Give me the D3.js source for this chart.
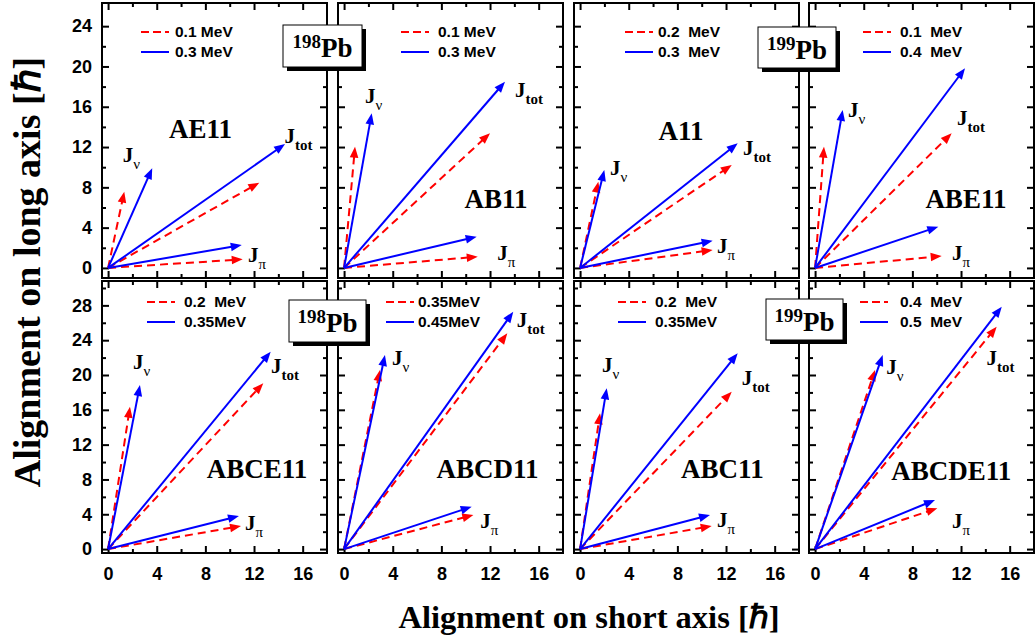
<!DOCTYPE html>
<html>
<head>
<meta charset="utf-8">
<script src="https://cdn.jsdelivr.net/npm/d3@7"></script>
<style>
  body { margin: 0; background: #fff; }
</style>
</head>
<body>
<svg id="chart" width="1035" height="638"></svg>
<script>
// ---- data ----
const panelNames = ["AE11", "AB11", "A11", "ABE11", "ABCE11", "ABCD11", "ABC11", "ABCDE11"];
const redLegend  = ["0.1 MeV", "0.1 MeV", "0.2  MeV", "0.1  MeV", "0.2  MeV", "0.35MeV", "0.2  MeV", "0.4  MeV"];
const blueLegend = ["0.3 MeV", "0.3 MeV", "0.3  MeV", "0.4  MeV", "0.35MeV", "0.45MeV", "0.35MeV", "0.5  MeV"];

// arrow tips [short axis, long axis], one per panel
const redNu   = [[1.33, 7.57], [0.90, 12.04], [1.50, 8.56], [0.73, 12.04], [1.80, 16.36], [2.95, 20.58], [1.64, 15.60], [4.93, 20.58]];
const redPi   = [[11.07, 0.85], [10.99, 1.11], [10.90, 1.78], [10.41, 1.18], [10.93, 2.65], [10.63, 3.92], [10.82, 2.65], [10.05, 4.69]];
const redTot  = [[12.43, 8.46], [12.00, 13.37], [12.47, 10.22], [11.23, 13.37], [12.76, 19.05], [13.42, 24.79], [12.47, 18.08], [14.93, 25.55]];
const blueNu  = [[3.63, 9.89], [2.27, 15.35], [1.99, 9.72], [2.27, 15.68], [2.62, 18.85], [3.36, 22.30], [2.19, 18.47], [5.56, 22.30]];
const bluePi  = [[10.99, 2.27], [10.90, 3.10], [10.90, 2.70], [10.13, 4.09], [10.76, 3.80], [10.49, 4.87], [10.68, 3.92], [9.86, 5.64]];
const blueTot = [[14.55, 12.30], [13.23, 18.49], [12.96, 12.37], [12.33, 19.82], [13.37, 22.68], [13.91, 27.27], [12.96, 22.50], [15.35, 27.85]];

const xTicks = [0, 4, 8, 12, 16];
const xMinor = [2, 6, 10, 14];
const yTicksTop = [0, 4, 8, 12, 16, 20, 24];
const yMinorTop = [2, 6, 10, 14, 18, 22];
const yTicksBottom = [0, 4, 8, 12, 16, 20, 24, 28];
const yMinorBottom = [2, 6, 10, 14, 18, 22, 26, 30];

const massNumbers = ["198", "199", "198", "199"];

// ---- layout ----
const panelLeft = [102, 338, 574, 809];
const panelW = 225;
const rowTop = [3, 281];
const rowBottom = [278, 553];
const xDomain = [-0.5, 18];
const yDomains = [[-1, 26.3], [-0.45, 30.8]];

// annotation positions in data units: [J_tot, J_nu, J_pi, name]
const labelPos = [
  [[14.5, 12.4], [1.2, 10.5], [11.5, 0.6], [7.6, 12.9]],
  [[14.05, 17.0], [1.72, 16.4], [12.6, 0.8], [12.5, 5.95]],
  [[13.4, 11.2], [2.45, 9.2], [11.25, 1.5], [8.3, 12.7]],
  [[11.66, 14.2], [2.7, 15.0], [11.26, 0.8], [12.4, 5.95]],
  [[13.4, 20.2], [2.05, 20.7], [11.26, 2.2], [12.25, 8.2]],
  [[14.2, 25.5], [3.95, 21.2], [11.2, 2.4], [11.8, 8.2]],
  [[13.3, 18.9], [1.8, 20.4], [11.25, 2.55], [11.7, 8.2]],
  [[14.1, 21.2], [5.85, 20.1], [11.26, 2.4], [11.2, 7.9]]
];
// legend line start (px from panel left) and text start
const legendLine = [39, 63, 51, 54, 45, 48, 44, 51];
const legendText = [73, 100, 84, 91, 82, 80, 81, 91];
const legendY = [[32, 52], [302, 322]];
// nucleus boxes [x, y, w, h]
const boxes = [[283, 25, 79, 42], [758, 27, 78, 41], [289, 300, 77, 42], [766, 299, 77, 41]];

const RED = "#ff0000", BLUE = "#0000ff";
const serif = "'Liberation Serif', 'Times New Roman', serif";
const sans = "'Liberation Sans', Arial, sans-serif";

const svg = d3.select("#chart");

function arrow(g, x, y, tip, color, dashed) {
  const x0 = x(0), y0 = y(0), x1 = x(tip[0]), y1 = y(tip[1]);
  const dx = x1 - x0, dy = y1 - y0, len = Math.sqrt(dx * dx + dy * dy);
  const ux = dx / len, uy = dy / len;
  const hl = 11, hw = 4.3;
  const bx = x1 - ux * hl, by = y1 - uy * hl;
  g.append("line")
    .attr("x1", x0).attr("y1", y0)
    .attr("x2", bx + ux * 1).attr("y2", by + uy * 1)
    .attr("stroke", color).attr("stroke-width", 2)
    .attr("stroke-dasharray", dashed ? "8,5" : null);
  g.append("path")
    .attr("d", `M${x1},${y1}L${bx - uy * hw},${by + ux * hw}L${bx + uy * hw},${by - ux * hw}Z`)
    .attr("fill", color);
}

function jLabel(g, px, py, sub, bold) {
  const t = g.append("text").attr("x", px).attr("y", py)
    .attr("font-family", serif).attr("font-weight", "bold");
  t.append("tspan").attr("font-size", 21).text("J");
  t.append("tspan").attr("font-size", 15).attr("dy", 7)
    .attr("font-weight", bold ? "bold" : "normal").text(sub);
}

panelNames.forEach(function(name, i) {
  const col = i % 4, row = Math.floor(i / 4);
  const L = panelLeft[col];
  const x = d3.scaleLinear().domain(xDomain).range([L, L + panelW]);
  const y = d3.scaleLinear().domain(yDomains[row]).range([rowBottom[row], rowTop[row]]);
  const g = svg.append("g");
  const major = row === 0 ? yTicksTop : yTicksBottom;
  const minor = row === 0 ? yMinorTop : yMinorBottom;

  // ticks, all pointing inward: [axis, transform, show labels, minor]
  const axes = [
    [d3.axisBottom(x).tickValues(xTicks), `translate(0,${rowBottom[row]})`, row === 1, false],
    [d3.axisBottom(x).tickValues(xMinor), `translate(0,${rowBottom[row]})`, false, true],
    [d3.axisTop(x).tickValues(xTicks), `translate(0,${rowTop[row]})`, false, false],
    [d3.axisTop(x).tickValues(xMinor), `translate(0,${rowTop[row]})`, false, true],
    [d3.axisLeft(y).tickValues(major), `translate(${L},0)`, col === 0, false],
    [d3.axisLeft(y).tickValues(minor), `translate(${L},0)`, false, true],
    [d3.axisRight(y).tickValues(major), `translate(${L + panelW},0)`, false, false],
    [d3.axisRight(y).tickValues(minor), `translate(${L + panelW},0)`, false, true]
  ];
  axes.forEach(function(a, k) {
    const ax = a[0].tickSizeInner(a[3] ? -4 : -7).tickSizeOuter(0)
      .tickPadding(k === 0 ? 14 : 10);
    const ag = g.append("g").attr("transform", a[1]).call(ax);
    ag.select(".domain").remove();
    ag.selectAll(".tick line").attr("stroke", "#000").attr("stroke-width", 2);
    if (a[2]) {
      ag.selectAll(".tick text").attr("font-family", sans).attr("font-weight", "bold")
        .attr("font-size", 18).attr("fill", "#000");
    } else {
      ag.selectAll(".tick text").remove();
    }
  });

  g.append("rect")
    .attr("x", L).attr("y", rowTop[row])
    .attr("width", panelW).attr("height", rowBottom[row] - rowTop[row])
    .attr("fill", "none").attr("stroke", "#000").attr("stroke-width", 2);

  // legend
  const lx = L + legendLine[i];
  const ly = legendY[row];
  g.append("line").attr("x1", lx).attr("x2", lx + 28).attr("y1", ly[0]).attr("y2", ly[0])
    .attr("stroke", RED).attr("stroke-width", 2).attr("stroke-dasharray", "8,4");
  g.append("line").attr("x1", lx).attr("x2", lx + 28).attr("y1", ly[1]).attr("y2", ly[1])
    .attr("stroke", BLUE).attr("stroke-width", 2);
  [redLegend[i], blueLegend[i]].forEach(function(s, k) {
    g.append("text").attr("x", L + legendText[i]).attr("y", ly[k] + 5)
      .attr("font-family", sans).attr("font-weight", "bold").attr("font-size", 15.5)
      .style("white-space", "pre").text(s);
  });

  // arrows
  arrow(g, x, y, redNu[i], RED, true);
  arrow(g, x, y, redPi[i], RED, true);
  arrow(g, x, y, redTot[i], RED, true);
  arrow(g, x, y, blueNu[i], BLUE, false);
  arrow(g, x, y, bluePi[i], BLUE, false);
  arrow(g, x, y, blueTot[i], BLUE, false);

  const lp = labelPos[i];
  jLabel(g, x(lp[0][0]), y(lp[0][1]), "tot", true);
  jLabel(g, x(lp[1][0]), y(lp[1][1]), "\u03bd", false);
  jLabel(g, x(lp[2][0]), y(lp[2][1]), "\u03c0", false);
  g.append("text").attr("x", x(lp[3][0])).attr("y", y(lp[3][1]))
    .attr("text-anchor", "middle").attr("font-family", serif).attr("font-weight", "bold")
    .attr("font-size", 27).text(name);
});

// nucleus boxes
boxes.forEach(function(b, k) {
  const g = svg.append("g");
  g.append("rect").attr("x", b[0] + 4).attr("y", b[1] + 4).attr("width", b[2]).attr("height", b[3])
    .attr("fill", "#000");
  g.append("rect").attr("x", b[0]).attr("y", b[1]).attr("width", b[2]).attr("height", b[3])
    .attr("fill", "#fff").attr("stroke", "#000").attr("stroke-width", 1);
  const t = g.append("text").attr("x", b[0] + b[2] / 2).attr("y", b[1] + 32)
    .attr("text-anchor", "middle").attr("font-family", serif).attr("font-weight", "bold");
  t.append("tspan").attr("font-size", 19).attr("dy", -9).text(massNumbers[k]);
  t.append("tspan").attr("font-size", 27).attr("dy", 9).text("Pb");
});

// axis titles
svg.append("text").attr("x", 589).attr("y", 628).attr("text-anchor", "middle")
  .attr("font-family", serif).attr("font-weight", "bold").attr("font-size", 32.5)
  .text("Alignment on short axis [\u210f]");
svg.append("text").attr("transform", "translate(40,272) rotate(-90)").attr("text-anchor", "middle")
  .attr("font-family", serif).attr("font-weight", "bold").attr("font-size", 38)
  .text("Alignment on long axis [\u210f]");
</script>
</body>
</html>
